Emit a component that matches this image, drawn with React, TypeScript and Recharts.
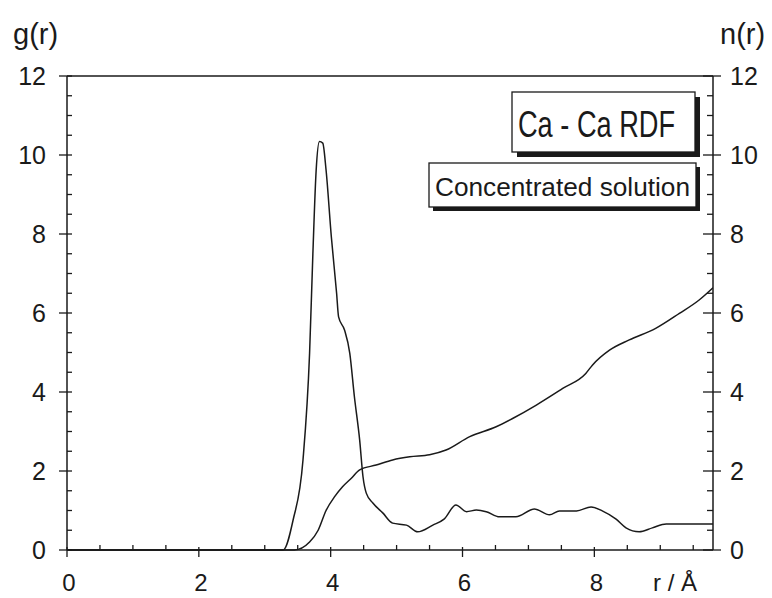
import React from 'react';
import { LineChart, Line, XAxis, YAxis, ReferenceLine, Customized } from 'recharts';

// g(r) curve
const R_G = [0, 3.28, 3.43, 3.58, 3.68, 3.73, 3.78, 3.83, 3.88, 3.93, 4.01, 4.09, 4.12, 4.21, 4.29, 4.36, 4.44, 4.49, 4.54, 4.64, 4.79, 4.94, 5.15, 5.32, 5.55, 5.72, 5.9, 6.06, 6.21, 6.36, 6.56, 6.81, 7.09, 7.32, 7.47, 7.73, 7.95, 8.12, 8.33, 8.48, 8.68, 8.88, 9.09, 9.8];
const G_VALUES = [0, 0, 0.76, 2.28, 4.98, 7.5, 9.62, 10.34, 10.3, 9.62, 7.93, 6.5, 5.9, 5.57, 4.98, 3.88, 2.78, 1.86, 1.44, 1.19, 0.94, 0.68, 0.63, 0.46, 0.63, 0.78, 1.14, 0.97, 1.01, 0.97, 0.84, 0.84, 1.04, 0.89, 0.99, 0.99, 1.09, 0.99, 0.78, 0.56, 0.46, 0.56, 0.66, 0.66];

// n(r) running coordination number
const R_N = [0, 3.45, 3.68, 3.81, 3.93, 4.06, 4.18, 4.31, 4.44, 4.69, 4.94, 5.2, 5.5, 5.75, 6.11, 6.51, 6.76, 7.12, 7.52, 7.87, 7.97, 8.23, 8.53, 8.93, 9.29, 9.59, 9.8];
const N_VALUES = [0, 0, 0.2, 0.5, 1.0, 1.35, 1.6, 1.81, 2.03, 2.15, 2.28, 2.36, 2.41, 2.53, 2.87, 3.12, 3.33, 3.67, 4.09, 4.47, 4.68, 5.06, 5.32, 5.61, 5.99, 6.33, 6.64];

const X_TICKS = [0, 0.5, 1, 1.5, 2, 2.5, 3, 3.5, 4, 4.5, 5, 5.5, 6, 6.5, 7, 7.5, 8, 8.5, 9, 9.5];
const X_LABELS = [0, 2, 4, 6, 8];
const Y_TICKS = [0, 0.5, 1, 1.5, 2, 2.5, 3, 3.5, 4, 4.5, 5, 5.5, 6, 6.5, 7, 7.5, 8, 8.5, 9, 9.5, 10, 10.5, 11, 11.5, 12];
const Y_LABELS = [0, 2, 4, 6, 8, 10, 12];

const gData = R_G.map((r, i) => ({ r, g: G_VALUES[i] }));
const nData = R_N.map((r, i) => ({ r, n: N_VALUES[i] }));

const INK = '#1a1a1a';
const FONT = '"Liberation Sans", Arial, Helvetica, sans-serif';

const XTick = (props: any) => {
  const { x, y, payload } = props;
  const major = X_LABELS.includes(payload.value);
  return (
    <g>
      <line x1={x} x2={x} y1={major ? y - 3 : y - 5} y2={major ? y + 7 : y} stroke={INK} strokeWidth={1.3} />
      {major && (
        <text x={x + 2} y={y + 41} textAnchor="middle" fontSize={24} fontFamily={FONT} fill={INK}>
          {payload.value}
        </text>
      )}
    </g>
  );
};

const LeftTick = (props: any) => {
  const { x, y, payload } = props;
  const major = Y_LABELS.includes(payload.value);
  return (
    <g>
      <line x1={major ? x - 8 : x} x2={x + 5} y1={y} y2={y} stroke={INK} strokeWidth={1.3} />
      {major && (
        <text x={x - 21} y={y + 9} textAnchor="end" fontSize={25} fontFamily={FONT} fill={INK}>
          {payload.value}
        </text>
      )}
    </g>
  );
};

const RightTick = (props: any) => {
  const { x, y, payload } = props;
  const major = Y_LABELS.includes(payload.value);
  return (
    <g>
      <line x1={major ? x - 10 : x - 6} x2={major ? x + 8 : x} y1={y} y2={y} stroke={INK} strokeWidth={1.3} />
      {major && (
        <text x={x + 17} y={y + 9} textAnchor="start" fontSize={25} fontFamily={FONT} fill={INK}>
          {payload.value}
        </text>
      )}
    </g>
  );
};

// axis titles and the two framed captions
const Annotations = () => (
  <g fontFamily={FONT} fill={INK}>
    <text x={13} y={44} fontSize={29}>g(r)</text>
    <text x={720} y={44} fontSize={29}>n(r)</text>
    <text x={653} y={591} fontSize={24}>r / Å</text>

    <rect x={517} y={97} width={183} height={60} fill={INK} />
    <rect x={512} y={92} width={183} height={60} fill="#fff" stroke={INK} strokeWidth={1.3} />
    <text x={518} y={137} fontSize={36} textLength={157} lengthAdjust="spacingAndGlyphs">Ca - Ca RDF</text>

    <rect x={433} y={167} width={267} height={44} fill={INK} />
    <rect x={429} y={163} width={267} height={44} fill="#fff" stroke={INK} strokeWidth={1.3} />
    <text x={435} y={196} fontSize={25} textLength={255} lengthAdjust="spacingAndGlyphs">Concentrated solution</text>
  </g>
);

export default function App() {
  return (
    <div style={{ position: 'absolute', left: 0, top: 0, width: 772, height: 598, background: '#fff' }}>
      <LineChart width={772} height={598} margin={{ top: 76, right: 0, left: 0, bottom: 0 }}>
        <XAxis
          dataKey="r"
          type="number"
          domain={[0, 9.8]}
          ticks={X_TICKS}
          interval={0}
          height={48}
          tickSize={0}
          tickMargin={0}
          tickLine={false}
          tick={<XTick />}
          axisLine={{ stroke: INK, strokeWidth: 1.5 }}
          allowDataOverflow
        />
        <YAxis
          yAxisId="left"
          orientation="left"
          type="number"
          domain={[0, 12]}
          ticks={Y_TICKS}
          interval={0}
          width={67}
          tickSize={0}
          tickMargin={0}
          tickLine={false}
          tick={<LeftTick />}
          axisLine={{ stroke: INK, strokeWidth: 1.5 }}
        />
        <YAxis
          yAxisId="right"
          orientation="right"
          type="number"
          domain={[0, 12]}
          ticks={Y_TICKS}
          interval={0}
          width={59}
          tickSize={0}
          tickMargin={0}
          tickLine={false}
          tick={<RightTick />}
          axisLine={{ stroke: INK, strokeWidth: 1.5 }}
        />
        <ReferenceLine yAxisId="left" y={12} stroke={INK} strokeWidth={1.5} />
        <Line
          yAxisId="left"
          data={gData}
          dataKey="g"
          type="monotone"
          stroke={INK}
          strokeWidth={1.5}
          dot={false}
          isAnimationActive={false}
        />
        <Line
          yAxisId="right"
          data={nData}
          dataKey="n"
          type="monotone"
          stroke={INK}
          strokeWidth={1.5}
          dot={false}
          isAnimationActive={false}
        />
        <Customized component={Annotations} />
      </LineChart>
    </div>
  );
}
